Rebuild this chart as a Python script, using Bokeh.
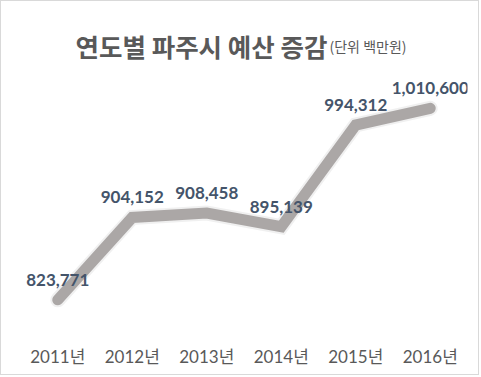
from bokeh.plotting import figure
from bokeh.models import ColumnDataSource, Label, FactorRange, Range1d
from bokeh.core.properties import value
from bokeh.embed import file_html
from bokeh.resources import INLINE

years = ["2011년", "2012년", "2013년", "2014년", "2015년", "2016년"]
budget = [823771, 904152, 908458, 895139, 994312, 1010600]
labels = ["823,771", "904,152", "908,458", "895,139", "994,312", "1,010,600"]
title_main = "연도별 파주시 예산 증감"
title_unit = "(단위 백만원)"

W, H = 479, 375
ML, MB = 19, 41
p = figure(width=W, height=H, x_range=FactorRange(*years),
           y_range=Range1d(789000, 1114800),
           output_backend="svg", toolbar_location=None,
           min_border_left=ML, min_border_right=13, min_border_top=0, min_border_bottom=MB)
p.styles = {"border": "1px solid #D9D9D9"}
p.outline_line_color = None
p.grid.grid_line_color = None
p.yaxis.visible = False
p.xaxis.axis_line_color = None
p.xaxis.major_tick_line_color = None
p.xaxis.minor_tick_line_color = None
p.xaxis.major_label_text_font = "Lato, 'Noto Sans CJK KR'"
p.xaxis.major_label_text_font_size = "17px"
p.xaxis.major_label_text_color = "#595959"
p.xaxis.major_label_standoff = 4
p.x_range.range_padding = 0

src = ColumnDataSource(dict(x=years, y=budget, t=labels))
p.line("x", "y", source=src, line_width=15, line_color="#000000", line_alpha=0.06,
       line_cap="round", line_join="miter")
p.line("x", "y", source=src, line_width=11, line_color="#ABA7A6",
       line_cap="round", line_join="miter")
p.text("x", "y", text="t", source=src, text_font=value("Lato"), text_font_style="bold",
       text_font_size="17px", text_color="#44546A", text_align="center",
       text_baseline="middle", y_offset=-20)

# screen units are measured from the frame's bottom-left corner
frame_bottom = H - MB
p.add_layout(Label(x=74 - ML, y=frame_bottom - 44, x_units="screen", y_units="screen",
                   text=title_main, text_font="Noto Sans CJK KR", text_font_style="bold",
                   text_font_size="25.5px", text_color="#595959", text_baseline="alphabetic"))
p.add_layout(Label(x=328 - ML, y=frame_bottom - 44, x_units="screen", y_units="screen",
                   text=title_unit, text_font="Noto Sans CJK KR", text_font_size="14px",
                   text_color="#595959", text_baseline="alphabetic"))

open("out.html", "w").write(file_html(p, INLINE))
